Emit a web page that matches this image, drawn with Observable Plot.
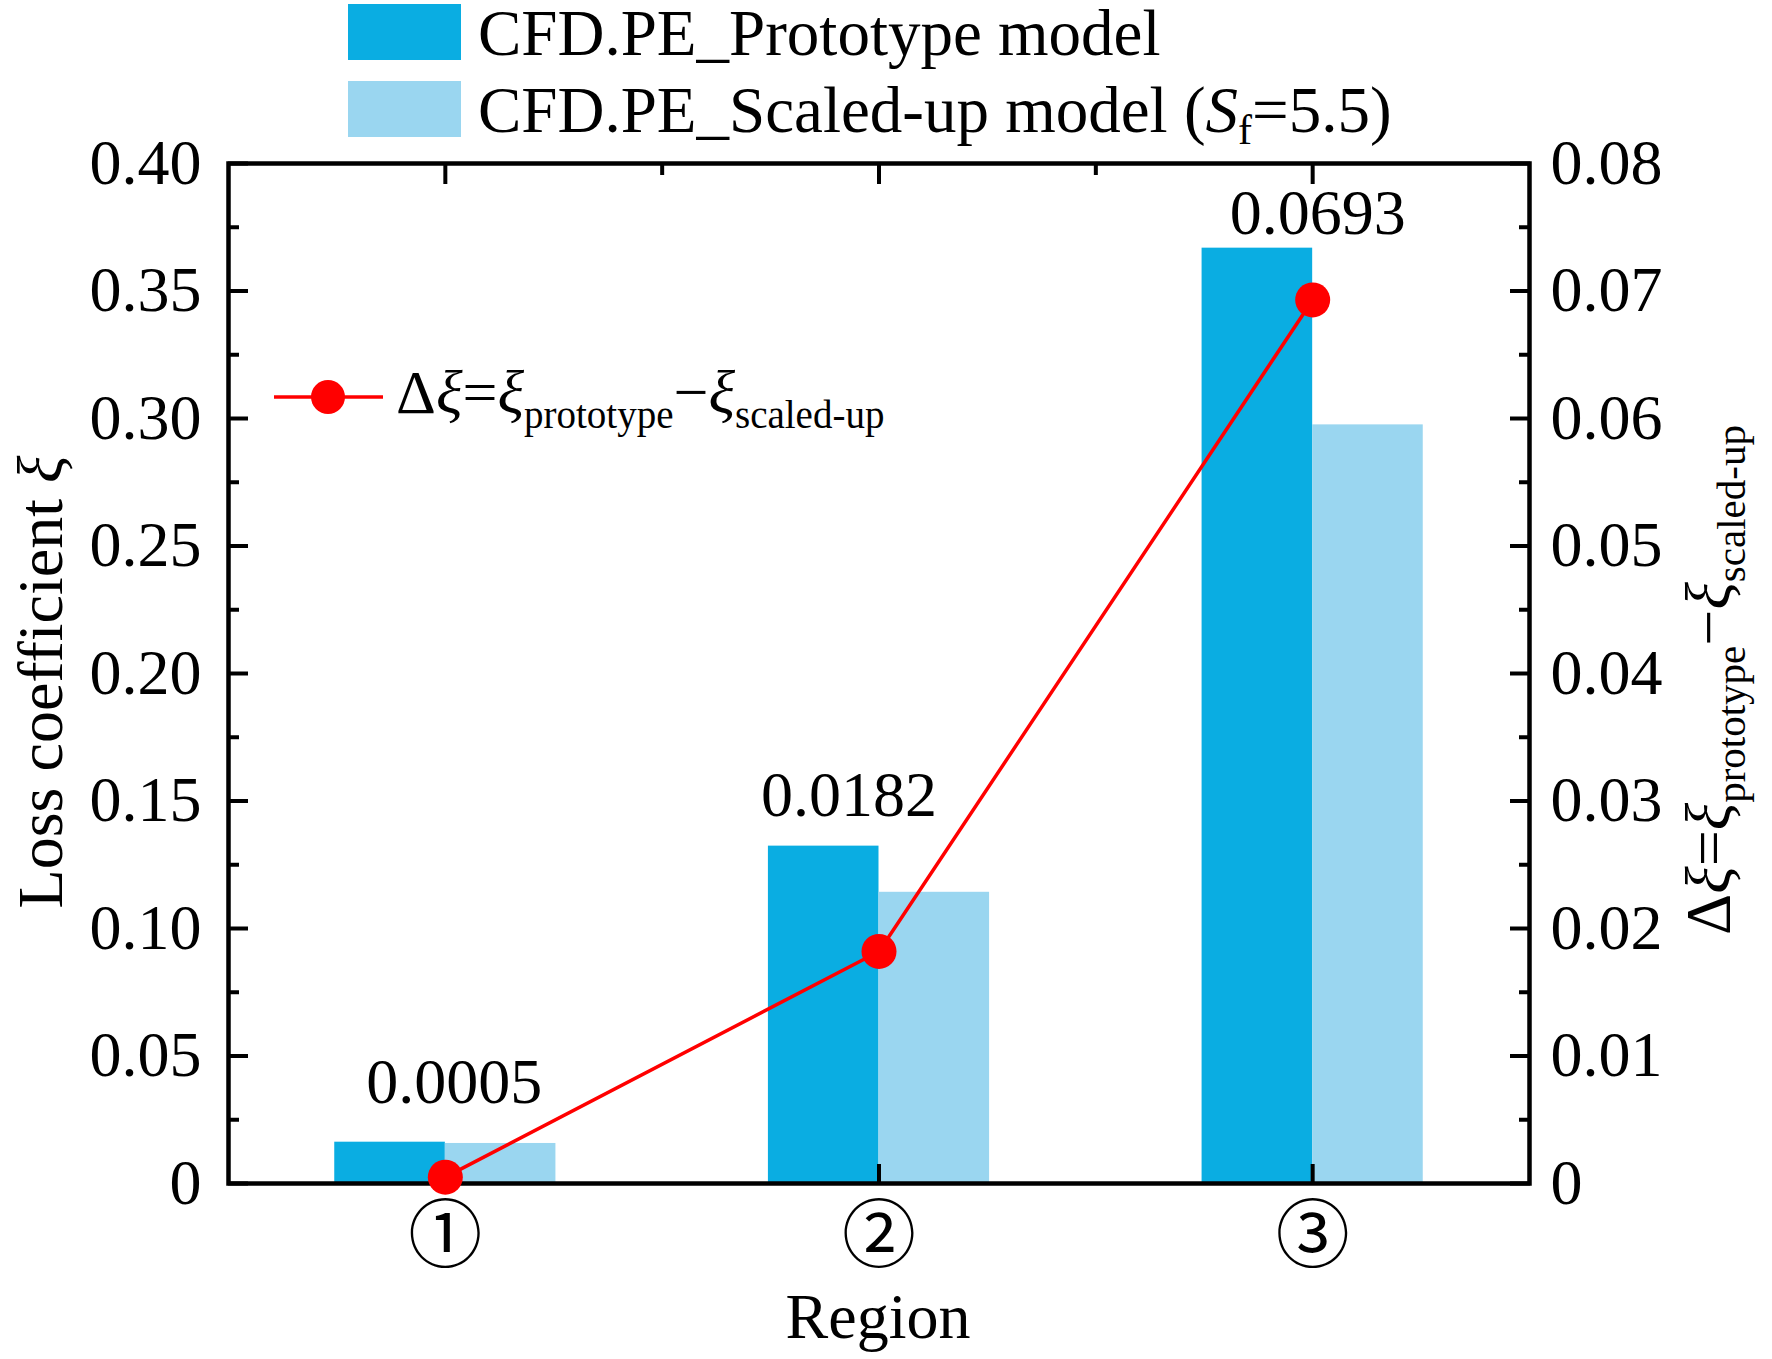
<!DOCTYPE html>
<html><head><meta charset="utf-8">
<script src="https://cdn.jsdelivr.net/npm/d3@7"></script>
<script src="https://cdn.jsdelivr.net/npm/@observablehq/plot@0.6"></script>
<style>body{margin:0;background:#fff} svg{display:block}</style>
</head><body><div id="chart"></div>
<script>
const regions = [1, 2, 3];
const regionLabels = ["①", "②", "③"];
const prototypeXi = [0.0162, 0.1323, 0.3668];
const scaledXi = [0.0157, 0.1142, 0.2975];
const deltaXi = [0.0005, 0.0182, 0.0693];
const deltaLabels = ["0.0005", "0.0182", "0.0693"];
const leftTicks = [0, 0.05, 0.10, 0.15, 0.20, 0.25, 0.30, 0.35, 0.40];
const leftMinor = [0.025, 0.075, 0.125, 0.175, 0.225, 0.275, 0.325, 0.375];
const rightTicks = [0, 0.01, 0.02, 0.03, 0.04, 0.05, 0.06, 0.07, 0.08];
const seriesNames = ["CFD.PE_Prototype model", "CFD.PE_Scaled-up model"];

const C_PROTO = "#0AADE2", C_SCALED = "#9AD6F0", RED = "#FF0000";
const ratio = 0.40 / 0.08;
const rows = regions.map((r, i) => ({region: r, label: regionLabels[i], proto: prototypeXi[i], scaled: scaledXi[i], delta: deltaXi[i] * ratio, dl: deltaLabels[i]}));
const bw = 0.255;
const font = "Liberation Serif, Times New Roman, serif";

const labelOffsets = [[9, -60], [-30, -51], [5, -35]];

const plot = Plot.plot({
  width: 1772, height: 1359,
  marginLeft: 228, marginRight: 243, marginTop: 163, marginBottom: 176,
  style: {fontFamily: font, fontSize: "64px", background: "#fff", color: "#000"},
  x: {type: "linear", domain: [0.5, 3.5], label: null},
  y: {domain: [0, 0.40], label: null},
  marks: [
    Plot.rectY(rows, {x1: d => d.region - bw, x2: d => d.region, y: "proto", fill: C_PROTO}),
    Plot.rectY(rows, {x1: d => d.region, x2: d => d.region + bw, y: "scaled", fill: C_SCALED}),
    // axes
    Plot.axisY(leftTicks, {anchor: "left", label: null, tickSize: -20, tickPadding: 47, strokeWidth: 4, fontSize: 64,
      tickFormat: d => d === 0 ? "0" : d.toFixed(2)}),
    Plot.axisY(leftMinor, {anchor: "left", label: null, tickSize: -11, strokeWidth: 4, tickFormat: () => ""}),
    Plot.axisY(rightTicks.map(v => v * ratio), {anchor: "right", label: null, tickSize: -20, tickPadding: 41, strokeWidth: 4, fontSize: 64,
      tickFormat: d => d === 0 ? "0" : (d / ratio).toFixed(2)}),
    Plot.axisY(leftMinor, {anchor: "right", label: null, tickSize: -11, strokeWidth: 4, tickFormat: () => ""}),
    Plot.axisX(regions, {anchor: "bottom", label: null, tickSize: -19, strokeWidth: 4, tickFormat: () => ""}),
    Plot.axisX(regions, {anchor: "top", label: null, tickSize: -20, strokeWidth: 4, tickFormat: () => ""}),
    Plot.axisX([1.5, 2.5], {anchor: "top", label: null, tickSize: -11, strokeWidth: 4, tickFormat: () => ""}),
    Plot.text(rows, {x: "region", text: "label", frameAnchor: "bottom", dy: 54, lineAnchor: "middle",
      fontSize: 74, fontFamily: "Noto Sans CJK JP, DejaVu Sans, sans-serif"}),
    Plot.frame({stroke: "#000", strokeWidth: 4.5}),
    ...rows.map((r, i) => Plot.text([r], {x: "region", y: "proto", text: "dl", dx: labelOffsets[i][0], dy: labelOffsets[i][1],
      lineAnchor: "middle", fontSize: 64})),
    Plot.line(rows, {x: "region", y: "delta", stroke: RED, strokeWidth: 3.5}),
    Plot.dot(rows, {x: "region", y: "delta", r: 17.5, fill: RED, stroke: "none"})
  ]
});
document.getElementById("chart").appendChild(plot);

const svg = d3.select(plot);
// legend (bars)
const lg = svg.append("g").attr("font-family", font).attr("font-size", 65).attr("text-anchor", "start");
[[C_PROTO, 4], [C_SCALED, 81]].forEach(([c, y0]) => {
  lg.append("rect").attr("x", 348).attr("y", y0).attr("width", 113).attr("height", 56).attr("fill", c);
});
lg.append("text").attr("x", 478).attr("y", 55).text(seriesNames[0]);
const t2 = lg.append("text").attr("x", 478).attr("y", 132);
t2.append("tspan").text(seriesNames[1] + " (");
t2.append("tspan").attr("font-style", "italic").text("S");
t2.append("tspan").attr("font-size", 42).attr("dy", 12).text("f");
t2.append("tspan").attr("dy", -12).text("=5.5)");

// legend (line)
const ll = svg.append("g").attr("font-family", font).attr("text-anchor", "start");
ll.append("line").attr("x1", 274).attr("x2", 383).attr("y1", 397).attr("y2", 397).attr("stroke", RED).attr("stroke-width", 3.5);
ll.append("circle").attr("cx", 328).attr("cy", 397).attr("r", 17).attr("fill", RED);
function deltaText(sel, sub) {
  sel.append("tspan").text("Δ");
  sel.append("tspan").attr("font-style", "italic").text("ξ");
  sel.append("tspan").text("=");
  sel.append("tspan").attr("font-style", "italic").text("ξ");
  sel.append("tspan").attr("font-size", sub).attr("dy", 15).text("prototype");
  sel.append("tspan").attr("dy", -15).text("−");
  sel.append("tspan").attr("font-style", "italic").text("ξ");
  sel.append("tspan").attr("font-size", sub).attr("dy", 15).text("scaled-up");
}
deltaText(ll.append("text").attr("x", 396).attr("y", 413).attr("font-size", 62), 39);

// axis titles
const lt = svg.append("text").attr("font-family", font).attr("font-size", 64).attr("text-anchor", "middle")
  .attr("transform", "translate(62,682) rotate(-90)");
lt.append("tspan").text("Loss coefficient ");
lt.append("tspan").attr("font-style", "italic").text("ξ");

const rt = svg.append("text").attr("font-family", font).attr("font-size", 64).attr("text-anchor", "middle")
  .attr("transform", "translate(1730,680) rotate(-90)");
deltaText(rt, 41);

svg.append("text").attr("font-family", font).attr("font-size", 64).attr("text-anchor", "middle")
  .attr("x", 878).attr("y", 1338).text("Region");
</script>
</body></html>
